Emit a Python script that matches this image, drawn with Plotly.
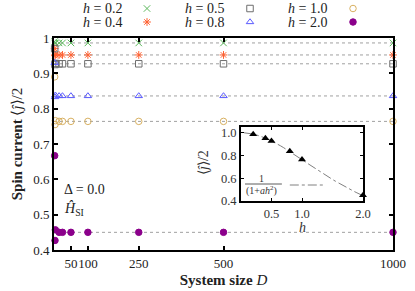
import plotly.graph_objects as go

# ---------------- data ----------------
D = [2, 3, 4, 15, 25, 50, 100, 250, 500, 1000]
h_labels = ["0.2", "0.4", "0.5", "0.8", "1.0", "2.0"]
j_h02 = [0.990, 0.985, 0.986, 0.986, 0.986, 0.986, 0.986, 0.986, 0.986, 0.986]
j_h04 = [0.970, 0.950, 0.953, 0.952, 0.952, 0.952, 0.952, 0.952, 0.952, 0.952]
j_h05 = [0.970, 0.925, 0.928, 0.927, 0.927, 0.927, 0.927, 0.927, 0.927, 0.927]
j_h08 = [0.930, 0.833, 0.838, 0.836, 0.836, 0.836, 0.836, 0.836, 0.836, 0.836]
j_h10 = [0.890, 0.755, 0.766, 0.764, 0.764, 0.764, 0.764, 0.764, 0.764, 0.764]
j_h20 = [0.667, 0.427, 0.457, 0.450, 0.450, 0.450, 0.450, 0.450, 0.450, 0.450]

inset_h = [0.2, 0.4, 0.5, 0.8, 1.0, 2.0]
inset_j = [0.986, 0.952, 0.927, 0.836, 0.764, 0.450]
fit_a = 0.31
fit_h = [0.05 + i * 0.05 for i in range(40)]

x_ticks = [50, 100, 250, 500, 1000]
y_ticks = [0.4, 0.5, 0.6, 0.7, 0.8, 0.9, 1.0]
y_ticklabels = ["0.4", "0.5", "0.6", "0.7", "0.8", "0.9", "1"]
inset_xticks = [0.5, 1.0, 2.0]
inset_yticks = [0.4, 0.6, 0.8, 1.0]

series = [j_h02, j_h04, j_h05, j_h08, j_h10, j_h20]
colors = ["#5cb85c", "#ff6030", "#6e6e6e", "#5a5aff", "#d8b060", "#8b008b"]
symbols = ["x-thin-open", "asterisk-open", "square-open", "triangle-up-open", "circle-open", "circle"]

FONT = "Liberation Serif"

# layout geometry (pixels)
W, H = 415, 291
ML, MR, MT, MB = 54, 22, 2, 41
PH = H - MT - MB
PW = W - ML - MR


def py(p):
    """pixel y -> paper y"""
    return (H - MB - p) / PH


def px(p):
    """pixel x -> paper x"""
    return (p - ML) / PW


fig = go.Figure()

# dotted guide lines at converged values
for vals in series:
    fig.add_trace(go.Scatter(x=[0, D[-1]], y=[vals[-1], vals[-1]], mode="lines",
                             line=dict(color="#a0a0a0", width=1, dash="dot"),
                             showlegend=False, hoverinfo="skip"))

for vals, c, s in zip(series, colors, symbols):
    fig.add_trace(go.Scatter(x=D, y=vals, mode="markers", cliponaxis=False,
                             marker=dict(symbol=s, size=6.5, color=c,
                                         line=dict(color=c, width=1)),
                             showlegend=False))

# inset
fig.add_trace(go.Scatter(x=fit_h, y=[1 / (1 + fit_a * h * h) for h in fit_h],
                         mode="lines", xaxis="x2", yaxis="y2",
                         line=dict(color="#808080", width=1, dash="dashdot"),
                         showlegend=False))
fig.add_trace(go.Scatter(x=inset_h, y=inset_j, mode="markers", xaxis="x2", yaxis="y2",
                         cliponaxis=False,
                         marker=dict(symbol="triangle-up", size=7, color="black"),
                         showlegend=False))

# manual legend (gnuplot style: text then symbol)
leg_mx = [147, 250, 353]
leg_tx = [124, 226, 329]
leg_rows_px = [8.5, 22]
LEG_DOM = [0.86, 1.0]
annotations = []
for i, (c, s, lab) in enumerate(zip(colors, symbols, h_labels)):
    col, row = i // 2, i % 2
    yy = py(leg_rows_px[row])
    fig.add_trace(go.Scatter(x=[px(leg_mx[col])], y=[yy], mode="markers",
                             xaxis="x3", yaxis="y3", cliponaxis=False,
                             marker=dict(symbol=s, size=6.5, color=c, line=dict(color=c, width=1)),
                             showlegend=False, hoverinfo="skip"))
    annotations.append(dict(x=px(leg_tx[col]), y=yy, xref="paper", yref="paper",
                            text="<i>h</i> = " + lab, showarrow=False,
                            xanchor="right", yanchor="middle",
                            font=dict(family=FONT, size=14, color="#222")))

main_top = py(38)

annotations += [
    dict(x=px(62), y=py(189), xref="paper", yref="paper", text="Δ = 0.0",
         showarrow=False, xanchor="left", yanchor="middle",
         font=dict(family=FONT, size=14, color="#222")),
    dict(x=px(62), y=py(209), xref="paper", yref="paper",
         text="<i>Ĥ</i><sub>SI</sub>", showarrow=False, xanchor="left", yanchor="middle",
         font=dict(family=FONT, size=14, color="#222")),
    dict(x=px(203), y=py(163), xref="paper", yref="paper", text="⟨<i>ĵ</i>⟩/2",
         textangle=-90, showarrow=False, xanchor="center", yanchor="middle",
         font=dict(family=FONT, size=14, color="#333")),
    dict(x=1.0, y=py(227), xref="x2", yref="paper", text="<i>h</i>",
         showarrow=False, xanchor="center", yanchor="middle",
         font=dict(family=FONT, size=14, color="#333")),
    dict(x=0.344, y=py(178), xref="x2", yref="paper", text="1", showarrow=False,
         xanchor="center", yanchor="middle",
         font=dict(family=FONT, size=10, color="#333")),
    dict(x=0.344, y=py(190.5), xref="x2", yref="paper", text="(1+<i>ah</i><sup>2</sup>)",
         showarrow=False, xanchor="center", yanchor="middle",
         font=dict(family=FONT, size=10, color="#333")),
]

shapes = [
    dict(type="line", xref="x2", yref="paper", x0=0.066, x1=0.67, y0=py(184), y1=py(184),
         line=dict(color="#333", width=0.8)),
    dict(type="line", xref="x2", yref="paper", x0=0.80, x1=1.38, y0=py(185), y1=py(185),
         line=dict(color="#808080", width=1, dash="dashdot")),
]

fig.update_layout(
    width=W, height=H,
    margin=dict(l=ML, r=MR, t=MT, b=MB, autoexpand=False),
    paper_bgcolor="white", plot_bgcolor="white",
    font=dict(family=FONT, size=13, color="#222"),
    annotations=annotations, shapes=shapes,
    xaxis=dict(range=[0, 1000], tickvals=x_ticks, ticktext=[str(v) for v in x_ticks],
               tickangle=0, automargin=False, tickfont=dict(size=13),
               showline=True, linewidth=2, linecolor="black", mirror="ticks",
               ticks="inside", ticklen=4, tickwidth=1.5, tickcolor="black",
               showgrid=False, zeroline=False,
               title=dict(text="<b>System size</b> <i>D</i>", standoff=5,
                          font=dict(family=FONT, size=15))),
    yaxis=dict(domain=[0, main_top], range=[0.4, 1.0], tickvals=y_ticks, ticktext=y_ticklabels,
               automargin=False, tickfont=dict(size=13),
               showline=True, linewidth=2, linecolor="black", mirror="ticks",
               ticks="inside", ticklen=4, tickwidth=1.5, tickcolor="black",
               showgrid=False, zeroline=False,
               title=dict(text="<b>Spin current</b> ⟨<i>ĵ</i>⟩/2", standoff=7,
                          font=dict(family=FONT, size=15))),
    xaxis2=dict(domain=[px(241), px(363)], anchor="y2", range=[0, 2.0],
                tickvals=inset_xticks, ticktext=["0.5", "1.0", "2.0"], tickangle=0,
                automargin=False,
                showline=True, linewidth=1.8, linecolor="black", mirror="ticks",
                ticks="inside", ticklen=3, tickwidth=1.2, tickcolor="black",
                showgrid=False, zeroline=False, tickfont=dict(size=12.5, color="#333")),
    yaxis2=dict(domain=[py(201), py(127)], anchor="x2", range=[0.4, 1.05],
                tickvals=inset_yticks, ticktext=["0.4", "0.6", "0.8", "1.0"],
                automargin=False,
                showline=True, linewidth=1.8, linecolor="black", mirror="ticks",
                ticks="inside", ticklen=3, tickwidth=1.2, tickcolor="black",
                showgrid=False, zeroline=False, tickfont=dict(size=12.5, color="#333")),
    xaxis3=dict(domain=[0, 1], anchor="y3", range=[0, 1], visible=False, fixedrange=True),
    yaxis3=dict(domain=LEG_DOM, anchor="x3", range=LEG_DOM, visible=False, fixedrange=True),
)

fig.write_html("out.html", config={"displayModeBar": False},
               post_script="document.body.style.margin='0';document.body.style.overflow='hidden';")
